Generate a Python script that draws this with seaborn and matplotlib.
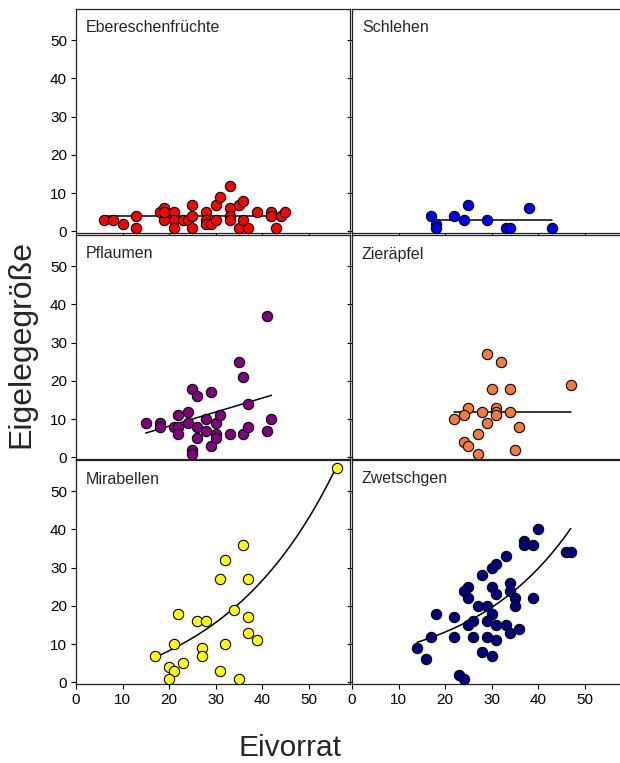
import numpy as np
import pandas as pd
import matplotlib
matplotlib.use('Agg')
import matplotlib.pyplot as plt
import seaborn as sns

sns.set_style('ticks')
plt.rcParams['font.family'] = ['Liberation Sans', 'DejaVu Sans']

# Eivorrat (x) und Eigelegegröße (y) je Wirtsfrucht
eber_x = [6, 8, 10, 13, 13, 18, 19, 19, 19, 21, 21, 21, 23, 24, 25, 25, 25, 28, 28, 28, 29, 30, 30,
          31, 33, 33, 33, 33, 35, 36, 35, 36, 37, 39, 42, 42, 43, 44, 45]
eber_y = [3, 3, 2, 4, 1, 5, 6, 3, 5, 5, 3, 1, 3, 3, 7, 4, 1, 5, 3, 2, 2, 3, 7,
          9, 12, 6, 4, 3, 7, 8, 1, 3, 1, 5, 5, 4, 1, 4, 5]

schl_x = [17, 18, 18, 22, 24, 25, 29, 33, 34, 38, 43]
schl_y = [4, 2, 1, 4, 3, 7, 3, 1, 1, 6, 1]

pfl_x = [15, 18, 18, 21, 22, 22, 22, 24, 24, 25, 25, 25, 26, 26, 26, 28, 28, 29, 29, 30, 30, 30,
         31, 33, 35, 36, 36, 37, 37, 41, 41, 42]
pfl_y = [9, 9, 8, 8, 8, 11, 6, 12, 9, 18, 2, 1, 16, 8, 5, 10, 7, 17, 3, 9, 6, 5,
         11, 6, 25, 21, 6, 14, 8, 37, 7, 10]

zier_x = [29, 32, 30, 34, 47, 25, 28, 31, 31, 31, 34, 24, 22, 29, 36, 27, 24, 25, 27, 35]
zier_y = [27, 25, 18, 18, 19, 13, 12, 13, 12, 11, 12, 11, 10, 9, 8, 6, 4, 3, 1, 2]

mira_x = [56, 36, 32, 31, 37, 34, 22, 26, 28, 37, 37, 39, 21, 32, 27, 27, 17, 23, 20, 21, 31, 20, 35]
mira_y = [56, 36, 32, 27, 27, 19, 18, 16, 16, 17, 13, 11, 10, 10, 9, 7, 7, 5, 4, 3, 3, 1, 1]

zwet_x = [40, 37, 37, 39, 46, 47, 33, 31, 30, 28, 34, 30, 25, 24, 34, 31, 25, 35, 39, 27, 29, 35,
          18, 30, 22, 26, 29, 25, 31, 33, 36, 34, 17, 22, 26, 29, 31, 14, 16, 28, 30, 23, 24]
zwet_y = [40, 37, 36, 36, 34, 34, 33, 31, 30, 28, 26, 25, 25, 24, 24, 23, 22, 22, 22, 20, 20, 20,
          18, 18, 17, 16, 16, 15, 15, 15, 14, 13, 12, 12, 12, 12, 11, 9, 6, 8, 7, 2, 1]

# Ausgleichskurven: y = c + a * exp(b * x) über [x_von, x_bis]
eber_fit = (4.0, 0.0, 0.0, 6, 45)
schl_fit = (3.0, 0.0, 0.0, 18, 43)
pfl_fit = (0.9, 0.365, None, 15, 42)   # linear: c + a * x
zier_fit = (11.9, 0.0, 0.0, 22, 47)
mira_fit = (-6.65, 6.71, 0.040, 17, 56)
zwet_fit = (2.06, 4.45, 0.0457, 14, 47)

panels = [
    ('Ebereschenfrüchte', eber_x, eber_y, eber_fit, '#ff0000'),
    ('Schlehen', schl_x, schl_y, schl_fit, '#0000ee'),
    ('Pflaumen', pfl_x, pfl_y, pfl_fit, '#800080'),
    ('Zieräpfel', zier_x, zier_y, zier_fit, '#f57a3c'),
    ('Mirabellen', mira_x, mira_y, mira_fit, '#ffff00'),
    ('Zwetschgen', zwet_x, zwet_y, zwet_fit, '#000080'),
]

W, H = 620, 763
fig = plt.figure(figsize=(W / 100, H / 100), dpi=100)

lefts = [76, 352]
tops = [9, 235, 460]
pw, ph = 274, 224

for i, (name, xs, ys, fit, col) in enumerate(panels):
    r, c = divmod(i, 2)
    ax = fig.add_axes([lefts[c] / W, 1 - (tops[r] + ph) / H, pw / W, ph / H])
    df = pd.DataFrame({'Eivorrat': xs, 'Eigelege': ys})
    sns.scatterplot(data=df, x='Eivorrat', y='Eigelege', ax=ax, color=col, s=55,
                    edgecolor='black', linewidth=0.8, zorder=3, clip_on=False)
    cc, a, b, x0, x1 = fit
    xf = np.linspace(x0, x1, 100)
    if b is None:
        yf = cc + a * xf
    else:
        yf = cc + a * np.exp(b * xf)
    sns.lineplot(x=xf, y=yf, ax=ax, color='black', linewidth=1.1, zorder=2)
    ax.set_xlim(0, 58.9)
    ax.set_ylim(-0.4, 58.1)
    ax.set_xticks(range(0, 60, 10))
    ax.set_yticks(range(0, 60, 10))
    ax.tick_params(direction='out', length=3.5, width=0.8, labelsize=11, pad=3,
                   colors='black')
    for sp in ax.spines.values():
        sp.set_visible(True)
        sp.set_linewidth(0.9)
        sp.set_color('#222222')
    if c == 1:
        ax.tick_params(labelleft=False)
    if r < 2:
        ax.tick_params(labelbottom=False)
    ax.set_xlabel('')
    ax.set_ylabel('')
    ax.text(10 / pw, 1 - 19 / ph, name, transform=ax.transAxes, fontsize=11.5,
            va='center', ha='left')

fig.text(290 / W, 1 - 748 / H, 'Eivorrat', fontsize=21.5, ha='center', va='center')
fig.text(21 / W, 1 - 344 / H, 'Eigelegegröße', fontsize=23, ha='center', va='center',
         rotation=90)

fig.savefig('out.png', dpi=100)
